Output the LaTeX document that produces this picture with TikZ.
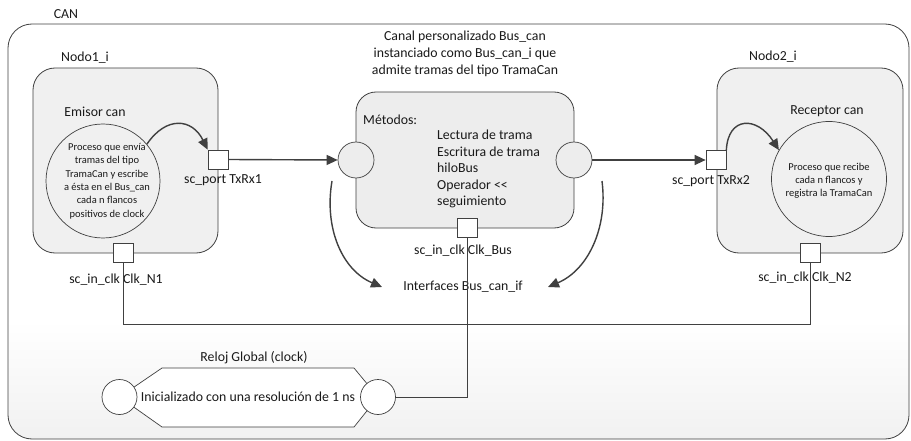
\documentclass[tikz,border=0pt]{standalone}
\usepackage{fontspec}
\setmainfont{Carlito}
\usetikzlibrary{arrows.meta,calc}
\definecolor{linec}{HTML}{404040}
\definecolor{boxf}{HTML}{F0F0F0}
\definecolor{midf}{HTML}{EDEDED}
\definecolor{txtc}{HTML}{1A1A1A}
\begin{document}
\begin{tikzpicture}[x=1pt,y=-1pt,
  lbl/.style={font=\fontsize{13.8}{17}\selectfont, inner sep=0pt, text=txtc},
  small/.style={font=\fontsize{10.5}{13.4}\selectfont, inner sep=0pt, text=txtc, align=center},
  box/.style={draw=linec, fill=boxf, rounded corners=22pt, line width=0.8pt, inner sep=0pt},
  circ/.style={draw=linec, fill=boxf, circle, line width=0.7pt, inner sep=0pt},
  wcirc/.style={draw=linec, fill=white, circle, line width=0.7pt, inner sep=0pt, minimum size=35pt},
  port/.style={draw=linec, fill=white, line width=0.7pt, inner sep=0pt, minimum width=20pt, minimum height=19pt},
  arr/.style={draw=linec, line width=1.4pt, -{Triangle[length=11pt,width=10pt]}},
  thin/.style={draw=linec, line width=0.7pt}
]
\useasboundingbox (0,0) rectangle (911,441);

% outer CAN container
\begin{scope}
\clip[rounded corners=24pt] (8,24) rectangle (909,439);
\fill[white] (8,24) rectangle (909,439);
\shade[top color=white,bottom color=gray!11] (8,320) rectangle (909,440);
\end{scope}
\node[draw=linec, rounded corners=24pt, line width=0.8pt, inner sep=0pt,
      minimum width=901pt, minimum height=415pt] (can) at (458.5,231.5) {};
\node[lbl] (tcan) at (66,14) {CAN};

% Nodo1
\node[lbl] (tn1) at (85,58) {Nodo1\_i};
\node[box, minimum width=185pt, minimum height=185pt] (n1) at (125.5,160.5) {};
\node[lbl] (tem) at (95,112) {Emisor can};
\node[circ, minimum size=114pt] (emc) at (103,181) {};
\node[small] (emt) at (107,181) {Proceso que envía\\tramas del tipo\\TramaCan y escribe\\a ésta en el Bus\_can\\cada n flancos\\positivos de clock};
\node[port] (p1) at (218,159.5) {};
\node[lbl] (tp1) at (223,180) {sc\_port TxRx1};
\node[port] (pn1) at (123,253) {};

% Nodo2
\node[lbl] (tn2) at (773,57) {Nodo2\_i};
\node[box, minimum width=186pt, minimum height=185pt] (n2) at (810,160.5) {};
\node[lbl] (trc) at (827,111) {Receptor can};
\node[circ, minimum size=115pt] (rc) at (829,179) {};
\node[small, font=\fontsize{10.5}{12.8}\selectfont] (rct) at (829,181) {Proceso que recibe\\cada n flancos y\\registra la TramaCan};
\node[port] (p2) at (716,160) {};
\node[lbl] (tp2) at (711,181) {sc\_port TxRx2};
\node[port] (pn2) at (810,253) {};

% channel
\node[lbl, align=center] (tbus) at (465,54) {Canal personalizado Bus\_can\\instanciado como Bus\_can\_i que\\admite tramas del tipo TramaCan};
\node[box, fill=midf, rounded corners=20pt, minimum width=218pt, minimum height=136pt] (bus) at (465,160) {};
\node[circ, fill=midf, minimum size=36pt] (cl) at (356,160) {};
\node[circ, fill=midf, minimum size=36pt] (cr) at (574,160) {};
\node[lbl, anchor=west] (met) at (363,120) {Métodos:};
\node[lbl, align=left, anchor=west, font=\fontsize{13.8}{16.5}\selectfont] (mlist) at (437,169) {Lectura de trama\\Escritura de trama\\hiloBus\\Operador <{}<\\seguimiento};
\node[port] (pbus) at (467.5,227.5) {};
\node[lbl] (tpbus) at (463,251) {sc\_in\_clk Clk\_Bus};
\node[lbl] (tifc) at (463,287) {Interfaces Bus\_can\_if};

\node[lbl] (tpn1) at (116,280) {sc\_in\_clk Clk\_N1};
\node[lbl] (tpn2) at (805,278) {sc\_in\_clk Clk\_N2};

% clock
\coordinate (ckl) at (119.5,397);
\coordinate (ckr) at (378,397);
\draw[thin, fill=white] (ckl) -- (162,368) -- (354,368) -- (ckr) -- (354,427) -- (162,427) -- cycle;
\node[wcirc] (clkL) at (ckl) {};
\node[wcirc] (clkR) at (ckr) {};
\node[lbl] (tclk) at (254,358) {Reloj Global (clock)};
\node[lbl] (tini) at (248,397) {Inicializado con una resolución de 1 ns};

% connectors
\draw[arr] (emc.40) .. controls (166,116) and (192,118) .. (p1.north west);
\draw[arr] (p2.north east) .. controls (728,116) and (757,116) .. (rc.150);
\draw[arr] (p1.east) -- (cl.west);
\draw[arr] (cr.east) -- (p2.west);
\coordinate (ia) at (332,181);
\coordinate (ib) at (382,287);
\coordinate (ja) at (602,181);
\coordinate (jb) at (548,287);
\draw[arr] (ia) .. controls (324,228) and (342,270) .. (ib);
\draw[arr] (ja) .. controls (608,228) and (588,270) .. (jb);
\draw[thin] (pn1.south) -- (pn1.south |- 0,324) -| (pn2.south);
\draw[thin] (pbus.south) |- (clkR.east);
\end{tikzpicture}
\end{document}
